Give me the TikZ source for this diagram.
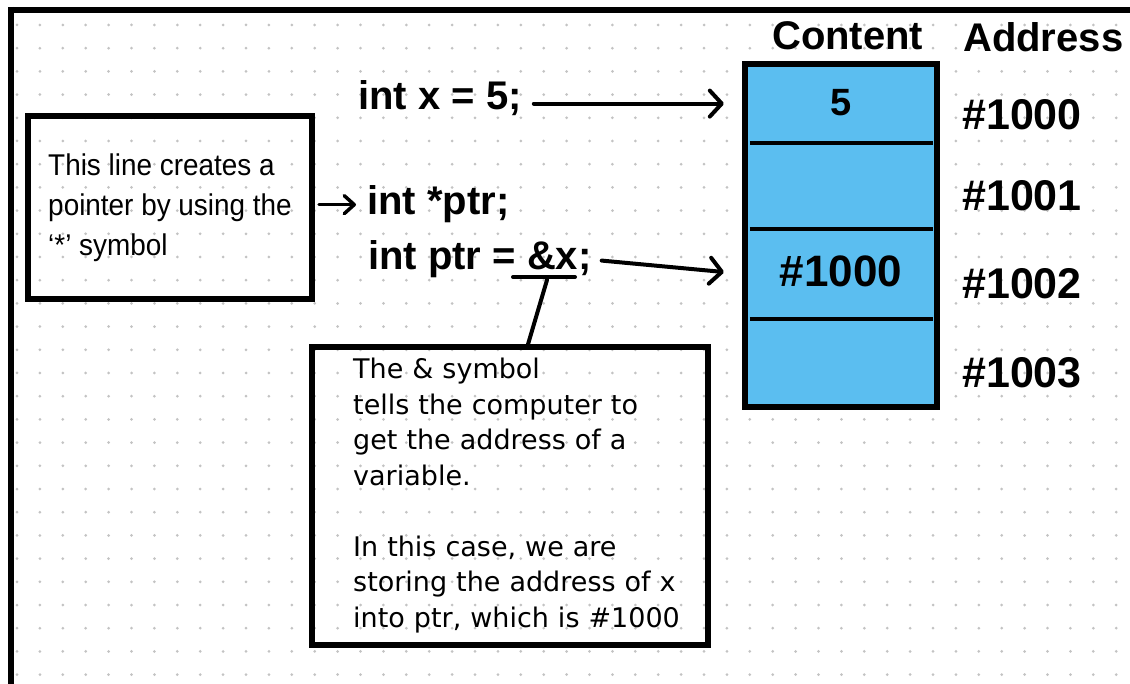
\documentclass[tikz,border=0pt]{standalone}
\usepackage{fontspec}
\setmainfont{Liberation Sans}
\newfontfamily\codefont{Liberation Sans Bold}
\newfontfamily\boxfont[FakeStretch=0.93]{Liberation Sans}
\newfontfamily\memfont{Liberation Sans Bold}
\newfontfamily\notefont{DejaVu Sans}
\usetikzlibrary{arrows.meta,calc}
\definecolor{cellblue}{RGB}{91,190,240}
\definecolor{dotgray}{RGB}{195,195,195}
\tikzset{
  frameline/.style={line width=6pt},
  textbox/.style={draw=black, line width=6pt, rectangle},
  codetext/.style={anchor=base west, inner sep=0pt, font=\codefont\fontsize{40}{48}\selectfont},
  addrtext/.style={anchor=base west, inner sep=0pt, font=\memfont\fontsize{43}{50}\selectfont},
  headtext/.style={anchor=base west, inner sep=0pt, font=\memfont\fontsize{40}{50}\selectfont},
  cell/.style={rectangle, inner sep=0pt, minimum width=192pt},
  divider/.style={line width=4pt},
  bigarrow/.style={line width=4pt, line cap=round, -{Straight Barb[length=12pt,width=26pt,round]}},
  smallarrow/.style={line width=3.5pt, line cap=round, -{Straight Barb[length=10pt,width=18pt,round]}},
  pointer/.style={line width=4pt, line cap=round}
}
\begin{document}
\begin{tikzpicture}[x=1pt,y=-1pt]
\useasboundingbox (0,0) rectangle (1130,684);
\fill[white] (0,0) rectangle (1130,684);
% dotted grid
\foreach \i in {0,...,48} {
  \foreach \j in {0,...,28} {
    \fill[dotgray] ({17+22.9*\i},{25+23.2*\j}) circle (1.5);
  }
}
% frame
\draw[frameline] (8,10) -- (1130,10);
\draw[frameline] (11,7) -- (11,684);

% memory block
\node[cell, minimum height=79pt] (cell1) at (841,103.5) {};
\node[cell, minimum height=86pt] (cell2) at (841,186) {};
\node[cell, minimum height=90pt] (cell3) at (841,274) {};
\node[cell, minimum height=88pt] (cell4) at (841,363) {};
\draw[fill=cellblue, line width=6pt] (cell1.north west) rectangle (cell4.south east);
\node[inner sep=0pt, font=\memfont\fontsize{38}{44}\selectfont] (val1) at ([yshift=1]cell1.center) {5};
\node[inner sep=0pt, font=\memfont\fontsize{44}{50}\selectfont] (val3) at ([yshift=3]cell3.center) {\#1000};
\draw[divider] ([xshift=5]cell1.south west) -- ([xshift=-4]cell1.south east);
\draw[divider] ([xshift=5]cell2.south west) -- ([xshift=-4]cell2.south east);
\draw[divider] ([xshift=5]cell3.south west) -- ([xshift=-4]cell3.south east);

% headers and addresses
\node[headtext] (content) at (772,50) {Content};
\node[headtext] (address) at (963,52) {Address};
\node[addrtext] (a1000) at (962,130) {\#1000};
\node[addrtext] (a1001) at (962,211) {\#1001};
\node[addrtext] (a1002) at (962,299) {\#1002};
\node[addrtext] (a1003) at (962,388) {\#1003};

% code lines
\node[codetext] (codex) at (358,110) {int x = 5;};
\node[codetext] (codestar) at (367,215) {int *ptr;};
\node[codetext] (codeptr) at (368,270) {int ptr = \&x;};

% left explanation box
\node[textbox, inner sep=0pt, minimum width=284pt, minimum height=183pt, align=left,
      font=\boxfont\fontsize{30}{40}\selectfont] (leftbox) at (170,207.5)
  {This line creates a\\pointer by using the\\‘*’ symbol};

% bottom explanation box
\node[textbox, minimum width=396pt, minimum height=298pt, inner sep=0pt] (note) at (510,496) {};
\node[anchor=north west, inner sep=0pt, text width=350pt, align=left,
      font=\notefont\fontsize{27}{35.5}\selectfont] (notetext) at (353,358)
  {The \& symbol\\tells the computer to\\get the address of a\\variable.\\[35.5pt]In this case, we are\\storing the address of x\\into ptr, which is \#1000};

% arrows
\draw[bigarrow, shorten <=12pt, shorten >=21pt] ([yshift=-5]codex.east) -- ([yshift=-5]codex.east -| cell1.west);
\draw[smallarrow, shorten <=4pt, shorten >=11pt] (leftbox.east |- codestar.west) -- (codestar.west);
\draw[bigarrow, shorten <=10pt, shorten >=21pt] (codeptr.east) -- (cell3.west);

% underline and pointer to note
\coordinate (ulA) at (513,277);
\coordinate (ulB) at (575,277);
\coordinate (ulM) at (547,280);
\draw[pointer] (ulA) -- (ulB);
\draw[pointer] (ulM) -- ($(note.north west)!0.545!(note.north east)$);
\end{tikzpicture}
\end{document}
